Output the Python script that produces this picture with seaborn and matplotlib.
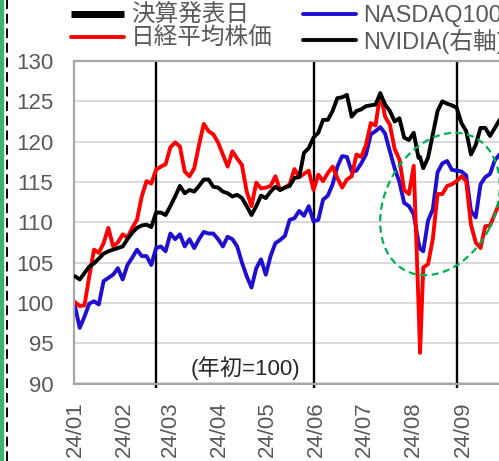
import pandas as pd
import matplotlib
matplotlib.use('Agg')
import matplotlib.pyplot as plt
import matplotlib.dates as mdates
from matplotlib.lines import Line2D
from matplotlib.patches import Ellipse, Rectangle
from matplotlib.transforms import IdentityTransform
import seaborn as sns

# days counted from 2024-01-04 (index base date)
start = pd.Timestamp('2024-01-04')
days = list(range(0, 217, 3)) + [217] + list(range(219, 268, 3))

nikkei = [100.1, 99.6, 99.7, 103.3, 106.6, 106.2, 107.4, 109.3, 107.0, 107.5,
          108.5, 108.1, 109.3, 110.3, 113.2, 115.1, 114.8, 116.5, 116.9, 117.2,
          119.3, 119.9, 119.4, 116.3, 115.7, 116.7, 119.6, 122.2, 121.3, 120.9,
          119.9, 118.4, 116.9, 118.8, 117.9, 117.1, 113.8, 112.0, 114.9, 114.2,
          114.3, 114.5, 115.7, 114.0, 114.3, 114.7, 116.6, 115.6, 116.0, 116.4,
          114.0, 115.9, 115.1, 116.1, 116.9, 115.5, 114.3, 115.3, 115.7, 118.4,
          118.1, 119.6, 122.3, 122.0, 126.0, 123.1, 122.1, 119.1, 117.8, 114.0,
          113.5, 117.0, 100.0, 93.8, 104.4, 104.8, 107.9, 113.5, 113.5, 114.5,
          114.7, 115.1, 115.7, 115.1, 109.7, 107.5, 106.8, 109.5, 109.6, 111.0, 112.5]

nasdaq = [99.6, 96.9, 98.3, 99.9, 100.2, 99.8, 102.7, 103.1, 103.5, 104.3,
          102.9, 104.7, 105.6, 106.6, 105.8, 105.8, 104.7, 106.8, 107.0, 106.4,
          108.6, 107.9, 108.5, 107.0, 107.9, 106.8, 107.9, 108.8, 108.6, 108.6,
          107.9, 107.0, 108.2, 107.9, 107.0, 105.0, 103.3, 101.9, 104.3, 105.4,
          103.5, 105.8, 107.4, 107.8, 108.3, 110.3, 110.5, 111.4, 110.8, 112.0,
          110.1, 110.3, 112.8, 113.3, 114.7, 116.9, 118.2, 118.1, 116.3, 116.4,
          117.3, 118.4, 120.9, 121.3, 121.8, 121.0, 118.8, 116.7, 115.0, 112.4,
          112.0, 111.0, 107.5, 106.7, 106.4, 110.2, 111.6, 116.2, 117.3, 117.6,
          116.5, 116.4, 116.3, 115.8, 111.4, 110.6, 114.7, 115.6, 116.0, 117.7, 118.4]

# NVIDIA is on the right axis (cut off in the picture); values as read
nvidia = [103.3, 102.9, 103.7, 104.5, 104.9, 105.5, 106.1, 106.4, 106.6, 106.8,
          107.0, 107.9, 108.7, 109.3, 109.6, 109.7, 109.4, 111.2, 111.2, 110.9,
          112.0, 113.2, 114.5, 113.6, 114.0, 113.8, 114.5, 115.3, 115.3, 114.4,
          114.3, 113.8, 113.6, 113.2, 113.4, 113.0, 112.0, 110.9, 112.0, 113.3,
          113.0, 113.8, 114.4, 114.0, 114.3, 114.5, 115.5, 115.6, 118.6, 119.2,
          120.5, 121.1, 122.7, 122.7, 123.8, 125.4, 125.5, 125.8, 123.1, 123.8,
          124.0, 124.4, 124.5, 124.6, 126.0, 124.6, 123.8, 122.5, 122.9, 120.5,
          120.2, 121.1, 118.0, 118.1, 116.7, 118.0, 120.9, 123.8, 125.0, 124.7,
          124.5, 124.2, 122.3, 121.3, 118.4, 119.6, 121.7, 121.7, 120.7, 121.7, 122.7]

earnings_days = [51, 150, 240]
yticks = list(range(90, 131, 5))

dates = start + pd.to_timedelta(days, unit='D')
earn_dates = start + pd.to_timedelta(earnings_days, unit='D')
df = pd.DataFrame({'date': dates, 'nikkei': nikkei, 'nasdaq': nasdaq, 'nvidia': nvidia})

sns.set_style('white')
plt.rcParams['font.family'] = ['Liberation Sans', 'Noto Sans CJK JP']

W, H = 499, 461
fig = plt.figure(figsize=(W / 100, H / 100), dpi=100)
ax = fig.add_axes([74 / W, (H - 383.5) / H, (505 - 74) / W, (383.5 - 61) / H])
ax2 = ax.twinx()

gray = '#595959'
lw = 2.8

# earnings dates as full-height marks
ax.vlines(earn_dates, 89.4, 130, color='black', lw=1.7, zorder=1, clip_on=False)

sns.lineplot(data=df, x='date', y='nasdaq', ax=ax, color='#1f0fd0', lw=lw, zorder=3)
sns.lineplot(data=df, x='date', y='nikkei', ax=ax, color='#ff0000', lw=lw, zorder=4)
sns.lineplot(data=df, x='date', y='nvidia', ax=ax2, color='black', lw=lw, zorder=3)

ax.set_ylim(90, 130)
ax2.set_ylim(90, 130)
ax.set_xlim(start - pd.Timedelta(days=0.6), start + pd.Timedelta(days=270.4))
ax.set_yticks(yticks)
ax.yaxis.grid(True, color='#d9d9d9', lw=1.4)
ax.set_axisbelow(True)
ax.xaxis.set_major_locator(mdates.MonthLocator(bymonthday=4))
ax.xaxis.set_major_formatter(mdates.DateFormatter('%y/%m'))
ax.tick_params(axis='y', length=0, pad=15, labelsize=16, labelcolor=gray)
ax.tick_params(axis='x', length=0, pad=13, labelsize=16, labelcolor=gray, rotation=90)
ax.set_xlabel('')
ax.set_ylabel('')
ax2.set_ylabel('')
ax2.set_yticks([])
for a in (ax, ax2):
    for s in a.spines.values():
        s.set_color('#a6a6a6')
        s.set_linewidth(1.5)

ax.text(start + pd.Timedelta(days=107.5), 91.9, '(年初=100)', fontsize=16,
        ha='center', va='center')

# partly hidden title
fig.text(363 / W, 1 - 1 / H, '株価指数・株価', color='#00a0e9', fontsize=16,
         fontweight='bold', ha='right', va='bottom')

handles = [Line2D([], [], color='black', lw=5, solid_capstyle='butt'),
           Line2D([], [], color='#ff0000', lw=lw),
           Line2D([], [], color='#1f0fd0', lw=lw),
           Line2D([], [], color='black', lw=lw)]
labels = ['決算発表日', '日経平均株価', 'NASDAQ100', 'NVIDIA(右軸)']
fig.legend(handles, labels, ncol=2, loc='upper left', bbox_to_anchor=(71 / W, 0.9895),
           frameon=False, fontsize=17, labelcolor=gray, handlelength=2.25,
           handletextpad=0.3, columnspacing=1.27, labelspacing=0.05,
           borderpad=0, borderaxespad=0)

# green circle around the August drop
cx, cy = 440, H - 204
fig.add_artist(Ellipse((cx, cy), 150, 110, angle=62.5, transform=IdentityTransform(),
                       fill=False, ec='#00b050', lw=1.6, ls=(0, (3.2, 2)), zorder=10))

# left border decorations
fig.add_artist(Rectangle((0, 0), 3 / W, 1, transform=fig.transFigure, color='#3cb371'))
fig.add_artist(Line2D([7.3 / W, 7.3 / W], [0, 1], transform=fig.transFigure,
                      color='black', lw=1.4, ls=(0, (5, 2.5))))

fig.savefig('out.png', dpi=100)
